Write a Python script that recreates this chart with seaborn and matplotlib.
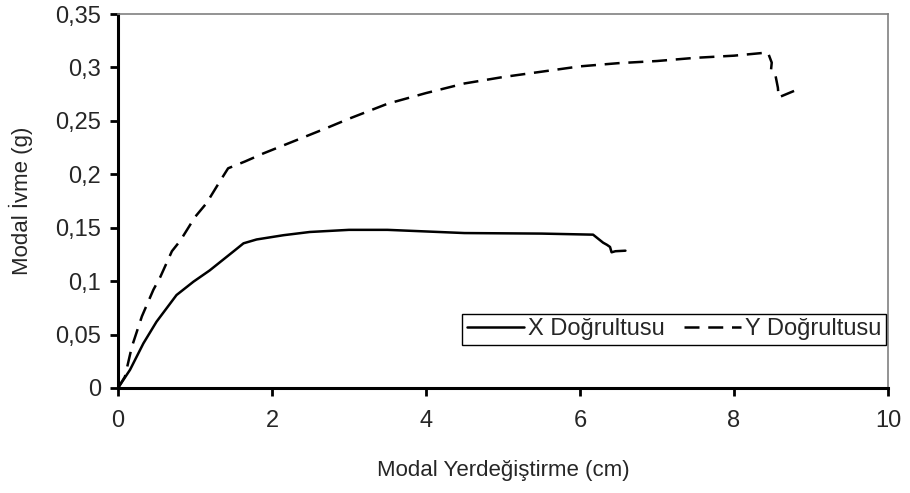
import matplotlib
matplotlib.use("Agg")
import matplotlib.pyplot as plt
import seaborn as sns
import pandas as pd
from matplotlib.ticker import FuncFormatter

x_disp = [0.0, 0.156, 0.33, 0.50, 0.76, 0.98, 1.19, 1.52, 1.63, 1.80, 2.15, 2.49, 3.0, 3.5, 4.5, 5.5, 6.17, 6.30, 6.35, 6.39, 6.41, 6.46, 6.59]
x_acc = [0.0, 0.017, 0.0418, 0.062, 0.087, 0.0995, 0.110, 0.129, 0.1354, 0.139, 0.143, 0.146, 0.148, 0.148, 0.145, 0.1445, 0.1435, 0.136, 0.134, 0.132, 0.127, 0.128, 0.1285]

y_disp = [0.0, 0.09, 0.18, 0.31, 0.46, 0.55, 0.70, 0.81, 1.0, 1.15, 1.32, 1.43, 1.65, 1.89, 2.32, 2.7, 3.0, 3.5, 4.0, 4.5, 5.0, 5.5, 6.0, 6.5, 7.0, 7.5, 8.0, 8.44, 8.49, 8.48, 8.54, 8.57, 8.58, 8.78]
y_acc = [0.0, 0.0106, 0.0386, 0.067, 0.092, 0.104, 0.128, 0.138, 0.160, 0.173, 0.193, 0.2056, 0.212, 0.2196, 0.232, 0.243, 0.252, 0.266, 0.276, 0.285, 0.291, 0.296, 0.301, 0.304, 0.306, 0.309, 0.311, 0.314, 0.3045, 0.297, 0.292, 0.281, 0.272, 0.278]

series_names = ["X Doğrultusu", "Y Doğrultusu"]
x_ticks = [0, 2, 4, 6, 8, 10]
y_ticks = [0, 0.05, 0.1, 0.15, 0.2, 0.25, 0.3, 0.35]

df = pd.concat([
    pd.DataFrame({"disp": x_disp, "acc": x_acc, "Seri": series_names[0]}),
    pd.DataFrame({"disp": y_disp, "acc": y_acc, "Seri": series_names[1]}),
], ignore_index=True)

sns.set_style("white")
plt.rcParams["font.family"] = ["Liberation Sans", "DejaVu Sans"]

fig = plt.figure(figsize=(9.1, 4.93), dpi=100)
ax = fig.add_axes([118/910, 1-388/493, (888-118)/910, (388-14)/493])

sns.lineplot(data=df, x="disp", y="acc", style="Seri", units="Seri",
             estimator=None, sort=False, color="black", linewidth=1.8,
             dashes={series_names[0]: "", series_names[1]: (6, 3.5)}, ax=ax)

ax.set_xlim(0, 10)
ax.set_ylim(0, 0.35)
ax.set_xticks(x_ticks)
ax.set_yticks(y_ticks)

def comma_fmt(v, pos):
    s = f"{v:.2f}".rstrip("0").rstrip(".")
    return s.replace(".", ",")

ax.yaxis.set_major_formatter(FuncFormatter(comma_fmt))
ax.xaxis.set_major_formatter(FuncFormatter(lambda v, p: f"{v:g}"))

ax.set_xlabel("Modal Yerdeğiştirme (cm)", fontsize=16, labelpad=20)
ax.set_ylabel("Modal İvme (g)", fontsize=16, labelpad=16)
ax.tick_params(axis="both", labelsize=17, direction="out", length=6, width=2,
               color="black", left=True, bottom=True, pad=6)
ax.tick_params(axis="x", pad=10)

for side in ["left", "bottom"]:
    ax.spines[side].set_color("black")
    ax.spines[side].set_linewidth(2.2)
for side in ["top", "right"]:
    ax.spines[side].set_color("#808080")
    ax.spines[side].set_linewidth(1.2)

leg = ax.legend(title=None, ncol=2, loc="lower right", bbox_to_anchor=(0.998, 0.115),
                fontsize=17, frameon=True, fancybox=False, framealpha=1,
                edgecolor="black", handlelength=2.4, columnspacing=0.8,
                handletextpad=0.2, borderpad=0.2, borderaxespad=0.0)
leg.get_frame().set_linewidth(1.0)

fig.savefig("out.png", dpi=100)
